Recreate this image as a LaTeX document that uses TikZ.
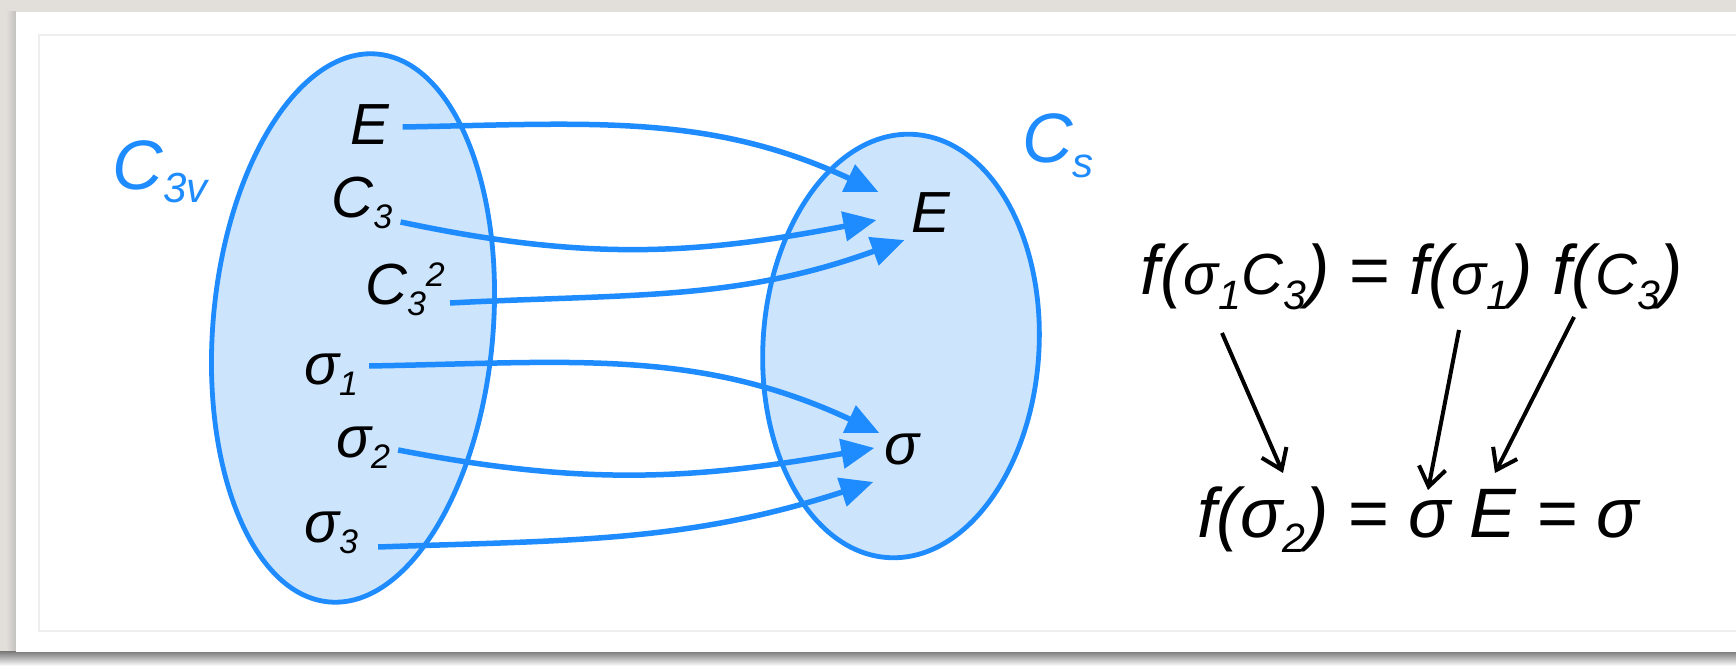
\documentclass[tikz,border=0pt]{standalone}
\usepackage{fontspec}
\setmainfont{Liberation Sans}
\usetikzlibrary{arrows.meta,shapes.geometric}
\definecolor{setblue}{HTML}{1E8BFF}
\definecolor{setfill}{HTML}{CCE4FC}
\definecolor{paper}{HTML}{E2DFDB}
\definecolor{edge}{HTML}{EEEEEE}
\definecolor{shade}{HTML}{A9A7A3}
\newcommand{\sbs}[1]{\raisebox{-11pt}{\fontsize{34}{34}\selectfont #1}}
\newcommand{\sps}[1]{\raisebox{18pt}{\fontsize{34}{34}\selectfont #1}}
\newcommand{\esb}[1]{\raisebox{-15pt}{\fontsize{41}{41}\selectfont #1}}
\newcommand{\esm}[1]{{\fontsize{58}{60}\selectfont #1}}

\begin{document}
\begin{tikzpicture}[x=1pt, y=1pt,
  every node/.style={inner sep=0pt, font=\fontsize{58}{60}\selectfont\itshape},
  grp/.style={ellipse, draw=setblue, fill=setfill, line width=4.8pt},
  grpname/.style={text=setblue, font=\fontsize{70}{72}\selectfont\itshape},
  eq/.style={anchor=base, font=\fontsize{70}{72}\selectfont\itshape},
  mapto/.style={setblue, line width=5.5pt, -{Triangle[length=33pt,width=29pt]}},
  imp/.style={black, line width=4pt, -{Straight Barb[length=19pt,width=27pt]}}]
  \useasboundingbox (0,0) rectangle (1736,666);

  % page and card
  \fill[paper] (0,0) rectangle (1736,666);
  \shade[left color=paper, right color=shade!70] (6,14) rectangle (16,654);
  \fill[shade] (0,0) rectangle (1736,14);
  \fill[white] (16,14) rectangle (1736,654);
  \draw[edge, line width=1.5pt] (39,35) rectangle (1740,631);

  % the two groups
  \node[grp, minimum width=280pt, minimum height=550pt, rotate=-5] (gC3v) at (353,338) {};
  \node[grp, minimum width=276pt, minimum height=424pt, rotate=-3.5] (gCs) at (901,320) {};
  \node[grpname, anchor=base] (nC3v) at (160,476)
    {C\raisebox{-13pt}{\fontsize{42}{42}\selectfont 3v}};
  \node[grpname, anchor=base] (nCs) at (1058,503)
    {C\raisebox{-15pt}{\fontsize{42}{42}\selectfont s}};

  % elements
  \node[anchor=base] (lE) at (370,521) {E};
  \node[anchor=base] (lC3) at (362,448) {C\sbs{3}};
  \node[anchor=base] (lC3sq) at (405,361) {C\sbs{3}\sps{2}};
  \node[anchor=base] (lS1) at (331,281) {σ\sbs{1}};
  \node[anchor=base] (lS2) at (363,208) {σ\sbs{2}};
  \node[anchor=base] (lS3) at (331,123) {σ\sbs{3}};
  \node[anchor=base] (tE) at (931,433) {E};
  \node[anchor=base] (tS) at (902,201) {σ};

  % the mapping
  \foreach \src/\sx/\sy/\dst/\dx/\dy/\o/\i in {
      lE/13/18/tE/-33/21/1/155, lC3/8/-4/tE/-35/-7/-12/191,
      lC3sq/5/2/tE/-7/-27/3/200, lS1/11/19/tS/-5/17/1/155,
      lS2/8/8/tS/-10/2/-11/190, lS3/20/-4/tS/-11/-32/2/198}
    \draw[mapto] ([shift={(\sx,\sy)}]\src.base east) to[out=\o, in=\i]
      ([shift={(\dx,\dy)}]\dst.west);

  % worked example
  \node[eq] (eqTop) at (1412,371)
    {f(\esm{σ}\esb{1}\esm{C}\esb{3}) = f(\esm{σ}\esb{1}) f(\esm{C}\esb{3})};
  \node[eq] (eqBot) at (1418,128) {f(σ\esb{2}) = σ E = σ};
  \foreach \sx/\sy/\dx/\dy in {-190/-38/-135/65, 47/-35/10/48, 162/-22/77/65}
    \draw[imp] ([shift={(\sx,\sy)}]eqTop.base) -- ([shift={(\dx,\dy)}]eqBot.base);
\end{tikzpicture}
\end{document}
